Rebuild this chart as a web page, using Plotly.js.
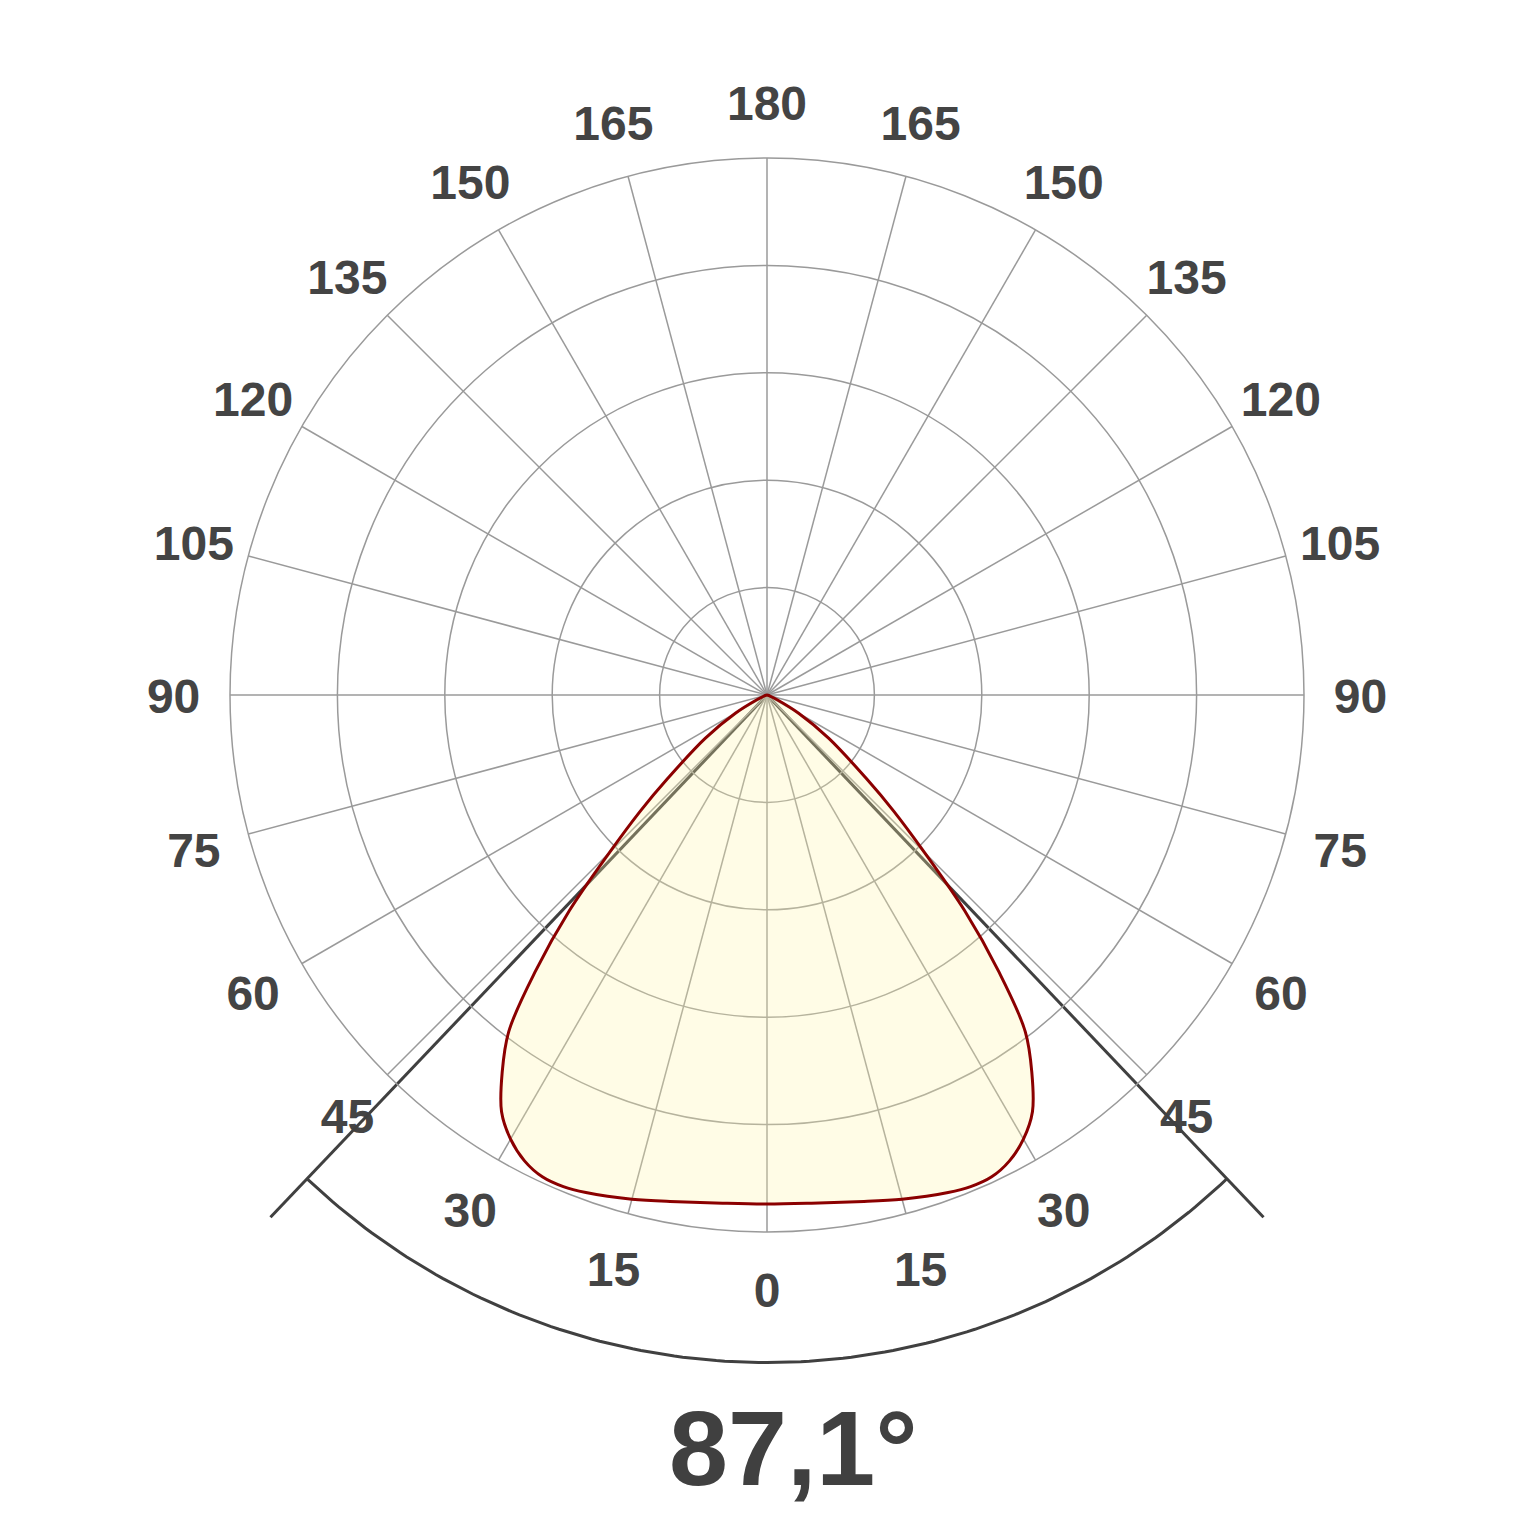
<!DOCTYPE html>
<html><head><meta charset="utf-8">
<script src="https://cdn.plot.ly/plotly-3.0.1.min.js"></script>
<style>html,body{margin:0;padding:0;background:#fff}</style>
</head><body><div id="chart" style="width:1536px;height:1536px"></div>
<script>
// ---- data ----
const gammaDeg = [0, 5, 10, 15, 20, 22.5, 25, 27.5, 30, 32.5, 35, 37.5, 40, 42.5, 45, 47.5, 50, 55, 60, 65, 70, 75, 80, 90];
const relIntensity = [0.948, 0.950, 0.958, 0.972, 0.986, 0.991, 0.990, 0.978, 0.955, 0.920, 0.860, 0.790, 0.670, 0.545, 0.415, 0.320, 0.240, 0.140, 0.068, 0.020, 0.006, 0.002, 0.0, 0.0];
const beamAngle = 87.1;
const tickAngles = [0, 15, 30, 45, 60, 75, 90, 105, 120, 135, 150, 165, 180, 195, 210, 225, 240, 255, 270, 285, 300, 315, 330, 345];
const tickLabels = ['0', '15', '30', '45', '60', '75', '90', '105', '120', '135', '150', '165', '180', '165', '150', '135', '120', '105', '90', '75', '60', '45', '30', '15'];
const ringValues = [0.2, 0.4, 0.6, 0.8];

// ---- layout geometry ----
const W = 1536, H = 1536, CX = 767, CY = 695, R = 537;
const LINE_LEN = 1.342, ARC_RAD = 1.243, LABEL_RAD = 1.105, LABEL_DROP = 0.0115;
const dark = '#404040';
const fontFam = 'Liberation Sans, Arial, sans-serif';

// closed symmetric curve (mirror of the half plane)
const theta = [], rr = [];
for (let i = gammaDeg.length - 1; i >= 0; i--) { theta.push(360 - gammaDeg[i]); rr.push(relIntensity[i]); }
for (let i = 1; i < gammaDeg.length; i++) { theta.push(gammaDeg[i]); rr.push(relIntensity[i]); }

const traces = [];
// angle labels on a circle just outside the grid (cartesian overlay, same scale as polar)
traces.push({type: 'scatter', mode: 'text', xaxis: 'x', yaxis: 'y',
  x: tickAngles.map(a => LABEL_RAD * Math.sin(a * Math.PI / 180)),
  y: tickAngles.map(a => -LABEL_RAD * Math.cos(a * Math.PI / 180) - LABEL_DROP),
  text: tickLabels, textposition: 'middle center', cliponaxis: false,
  textfont: {family: fontFam, size: 48, color: '#444444', weight: 700},
  hoverinfo: 'skip', showlegend: false});

const half = beamAngle / 2 * Math.PI / 180;
[-1, 1].forEach(s => {
  traces.push({type: 'scatter', mode: 'lines', xaxis: 'x', yaxis: 'y',
    x: [0, s * LINE_LEN * Math.sin(half)], y: [0, -LINE_LEN * Math.cos(half)],
    line: {color: dark, width: 3}, hoverinfo: 'skip', showlegend: false});
});
const ax = [], ay = [];
for (let k = 0; k <= 120; k++) {
  const a = -half + 2 * half * k / 120;
  ax.push(ARC_RAD * Math.sin(a)); ay.push(-ARC_RAD * Math.cos(a));
}
traces.push({type: 'scatter', mode: 'lines', xaxis: 'x', yaxis: 'y', x: ax, y: ay,
  line: {color: dark, width: 3}, hoverinfo: 'skip', showlegend: false});

traces.push({type: 'scatterpolar', r: rr, theta: theta, mode: 'lines', fill: 'toself',
  fillcolor: 'rgba(255,246,165,0.28)', line: {color: '#8B0000', width: 3, shape: 'spline', smoothing: 1},
  showlegend: false});

const layout = {
  width: W, height: H, margin: {l: 0, r: 0, t: 0, b: 0},
  paper_bgcolor: '#ffffff', plot_bgcolor: 'rgba(0,0,0,0)', showlegend: false,
  xaxis: {domain: [0, 1], range: [(0 - CX) / R, (W - CX) / R], visible: false, fixedrange: true},
  yaxis: {domain: [0, 1], range: [-(H - CY) / R, CY / R], visible: false, fixedrange: true},
  polar: {
    domain: {x: [(CX - R) / W, (CX + R) / W], y: [1 - (CY + R) / H, 1 - (CY - R) / H]},
    bgcolor: 'rgba(0,0,0,0)',
    radialaxis: {range: [0, 1], tickvals: ringValues, showticklabels: false, ticks: '',
      showline: false, gridcolor: '#9a9a9a', gridwidth: 1.5},
    angularaxis: {rotation: -90, direction: 'counterclockwise', tickvals: tickAngles,
      showticklabels: false, ticks: '',
      showline: true, linecolor: '#9a9a9a', linewidth: 1.5, gridcolor: '#9a9a9a', gridwidth: 1.5}
  },
  annotations: [{xref: 'paper', yref: 'paper', x: 793.5 / W, y: 1 - 1448 / H, xanchor: 'center', yanchor: 'middle',
    text: beamAngle.toFixed(1).replace('.', ',') + '°', showarrow: false,
    font: {family: fontFam, size: 106, color: dark, weight: 700}}]
};
Plotly.newPlot('chart', traces, layout, {staticPlot: true, displayModeBar: false});
</script></body></html>
